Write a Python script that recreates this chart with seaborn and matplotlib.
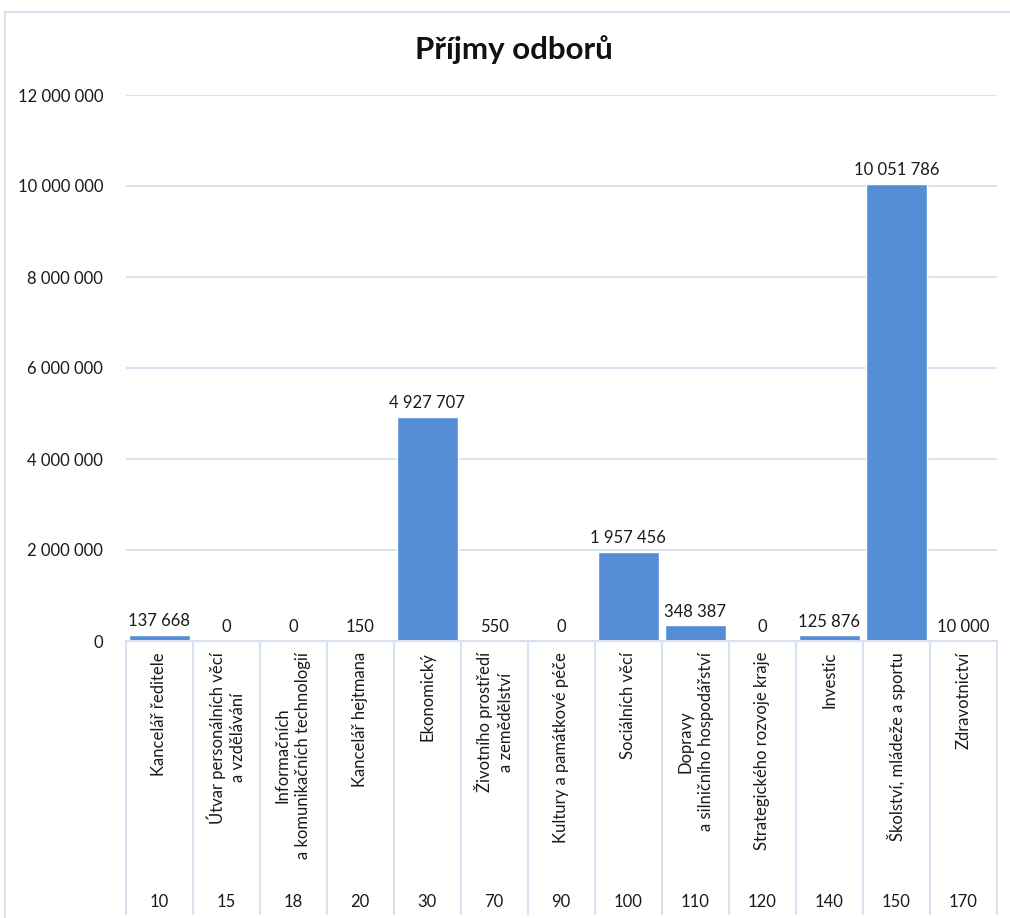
import pandas as pd
import matplotlib.pyplot as plt
import matplotlib.transforms as mtransforms
from matplotlib.patches import Rectangle
from matplotlib.ticker import FuncFormatter
import seaborn as sns

sns.set_theme(style="white")
plt.rcParams["font.family"] = ["Lato", "DejaVu Sans"]

# Data
codes = ["10", "15", "18", "20", "30", "70", "90", "100", "110", "120", "140", "150", "170"]
names = [
    "Kancelář ředitele",
    "Útvar personálních věcí\na vzdělávání",
    "Informačních\na komunikačních technologií",
    "Kancelář hejtmana",
    "Ekonomický",
    "Životního prostředí\na zemědělství",
    "Kultury a památkové péče",
    "Sociálních věcí",
    "Dopravy\na silničního hospodářství",
    "Strategického rozvoje kraje",
    "Investic",
    "Školství, mládeže a sportu",
    "Zdravotnictví",
]
income = [137668, 0, 0, 150, 4927707, 550, 0, 1957456, 348387, 0, 125876, 10051786, 10000]

df = pd.DataFrame({"code": codes, "name": names, "income": income})

W, H = 1010, 918
fig = plt.figure(figsize=(W / 100, H / 100), dpi=100)
ax = fig.add_axes([125.5 / W, 1 - 641 / H, (997 - 125.5) / W, (641 - 95) / H])

bar_color = "#558ED5"
grid_color = "#D6E1F1"
text_color = "#1a1a1a"

sns.barplot(data=df, x="code", y="income", order=codes, color=bar_color,
            width=0.91, saturation=1, ax=ax, zorder=3)

ax.set_xlim(-0.5, len(codes) - 0.5)
ax.set_ylim(0, 12000000)
ax.set_yticks(range(0, 12000001, 2000000))
ax.yaxis.set_major_formatter(FuncFormatter(lambda v, p: f"{v:,.0f}".replace(",", " ")))
ax.tick_params(axis="y", length=0, pad=16, labelsize=12, colors=text_color)
ax.set_xticks([])
ax.set_xlabel("")
ax.set_ylabel("")
ax.grid(axis="y", color=grid_color, linewidth=1.3, zorder=0)
for s in ax.spines.values():
    s.set_visible(False)
ax.axhline(0, color=grid_color, linewidth=1.5, zorder=4, clip_on=False)

# Data labels
for i, v in enumerate(income):
    ax.annotate(f"{v:,.0f}".replace(",", " "), (i, v), xytext=(0, 4),
                textcoords="offset points", ha="center", va="bottom",
                fontsize=12, color=text_color)

# Category axis: separators, names and codes
trans = mtransforms.blended_transform_factory(ax.transData, fig.transFigure)
for k in range(len(codes) + 1):
    ax.plot([k - 0.5, k - 0.5], [1 - 641 / H, 1 - 914 / H], transform=trans,
            color=grid_color, linewidth=1.5, clip_on=False)
for i, (n, c) in enumerate(zip(names, codes)):
    ax.text(i, 1 - 652 / H, n, transform=trans, rotation=90, ha="center",
            va="top", multialignment="center", linespacing=1.35,
            fontsize=12, color=text_color)
    ax.text(i, 1 - 902 / H, c, transform=trans, ha="center", va="center",
            fontsize=12, color=text_color)

fig.suptitle("Příjmy odborů", x=514 / W, y=1 - 50 / H, va="center",
             fontsize=22.5, fontweight="bold", color="#111111")

# Chart border
fig.patches.append(Rectangle((5 / W, -0.1), 1.2, 1.1 - 12 / H, transform=fig.transFigure,
                             fill=False, edgecolor=grid_color, linewidth=1.5))

fig.savefig("out.png", dpi=100)
